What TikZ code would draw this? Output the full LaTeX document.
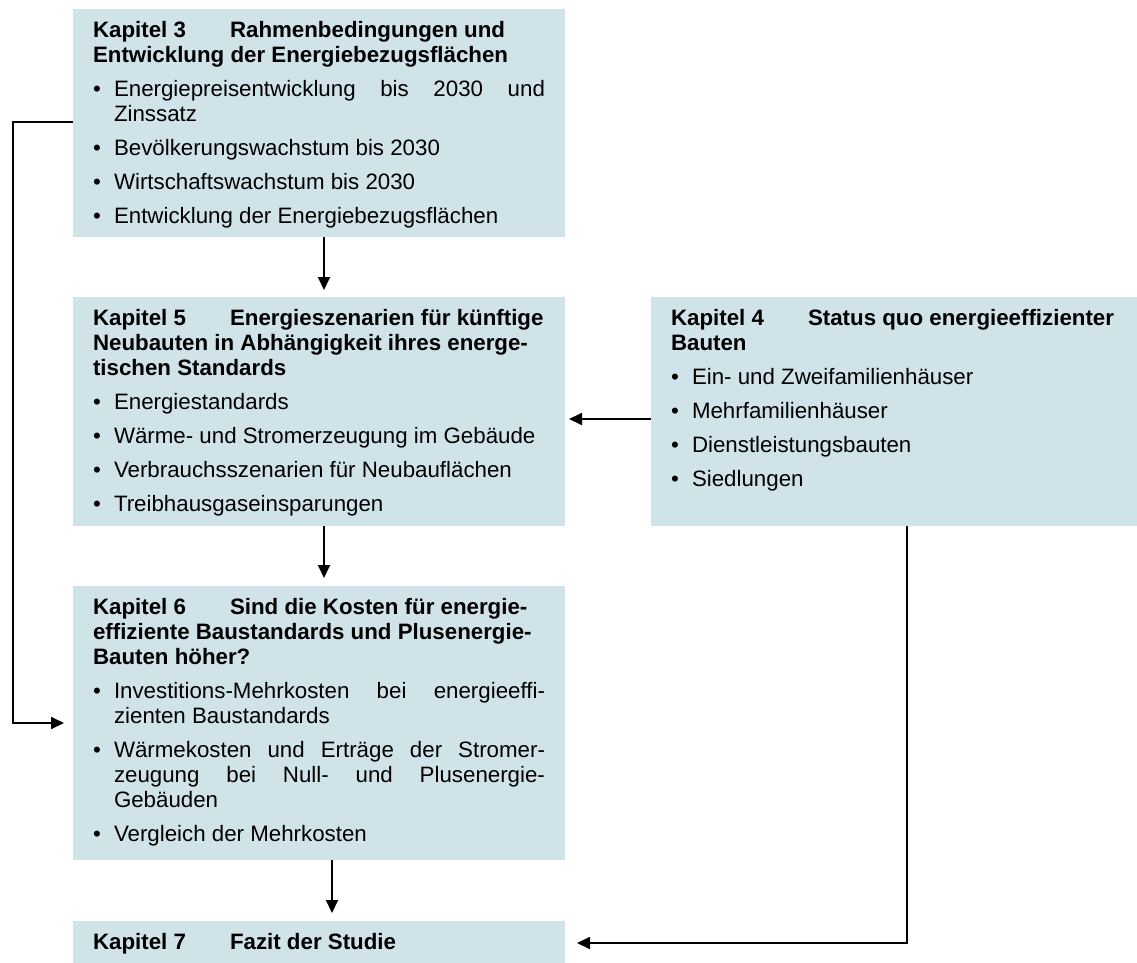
\documentclass[tikz,border=0pt]{standalone}
\usepackage{fontspec}
\setmainfont{Liberation Sans}
\usetikzlibrary{arrows.meta}
\definecolor{boxfill}{RGB}{208,227,233}
\begin{document}
\begin{tikzpicture}[x=1bp,y=-1bp,
  chapbox/.style={draw=none,fill=boxfill,inner sep=0pt,outer sep=0pt,anchor=north west},
  tx/.style={anchor=base west,inner sep=0pt,outer sep=0pt,font=\fontsize{22.3bp}{25bp}\selectfont},
  hd/.style={tx,font=\fontsize{22.3bp}{25bp}\selectfont\bfseries},
  ln/.style={line width=1.8bp},
  arr/.style={line width=1.8bp,-{Triangle[length=13bp,width=12bp]}}]
\useasboundingbox (0,0) rectangle (1137,963);

% boxes
\node[chapbox,minimum width=492bp,minimum height=228bp] (b3) at (73,9) {};
\node[chapbox,minimum width=492bp,minimum height=229bp] (b5) at (73,297) {};
\node[chapbox,minimum width=486bp,minimum height=229bp] (b4) at (651,297) {};
\node[chapbox,minimum width=492bp,minimum height=274bp] (b6) at (73,586) {};
\node[chapbox,minimum width=492bp,minimum height=42bp] (b7) at (73,921) {};

% Kapitel 3
\node[hd] (h3a) at (93,37) {Kapitel 3};
\node[hd] (h3b) at (230,37) {Rahmenbedingungen und};
\node[hd] (h3c) at (93,62) {Entwicklung der Energiebezugsflächen};
\node[tx] (d3a) at (93,96) {•};
\node[tx] (t3a) at (114,96) {\makebox[431bp][s]{Energiepreisentwicklung bis 2030 und}};
\node[tx] (t3b) at (114,121) {Zinssatz};
\node[tx] (d3b) at (93,155) {•};
\node[tx] (t3c) at (114,155) {Bevölkerungswachstum bis 2030};
\node[tx] (d3c) at (93,189) {•};
\node[tx] (t3d) at (114,189) {Wirtschaftswachstum bis 2030};
\node[tx] (d3d) at (93,223) {•};
\node[tx] (t3e) at (114,223) {Entwicklung der Energiebezugsflächen};

% Kapitel 5
\node[hd] (h5a) at (93,325) {Kapitel 5};
\node[hd] (h5b) at (230,325) {Energieszenarien für künftige};
\node[hd] (h5c) at (93,350) {Neubauten in Abhängigkeit ihres energe-};
\node[hd] (h5d) at (93,375) {tischen Standards};
\node[tx] (d5a) at (93,409) {•};
\node[tx] (t5a) at (114,409) {Energiestandards};
\node[tx] (d5b) at (93,443) {•};
\node[tx] (t5b) at (114,443) {Wärme- und Stromerzeugung im Gebäude};
\node[tx] (d5c) at (93,477) {•};
\node[tx] (t5c) at (114,477) {Verbrauchsszenarien für Neubauflächen};
\node[tx] (d5d) at (93,511) {•};
\node[tx] (t5d) at (114,511) {Treibhausgaseinsparungen};

% Kapitel 4
\node[hd] (h4a) at (671,325) {Kapitel 4};
\node[hd] (h4b) at (808,325) {Status quo energieeffizienter};
\node[hd] (h4c) at (671,350) {Bauten};
\node[tx] (d4a) at (671,384) {•};
\node[tx] (t4a) at (692,384) {Ein- und Zweifamilienhäuser};
\node[tx] (d4b) at (671,418) {•};
\node[tx] (t4b) at (692,418) {Mehrfamilienhäuser};
\node[tx] (d4c) at (671,452) {•};
\node[tx] (t4c) at (692,452) {Dienstleistungsbauten};
\node[tx] (d4d) at (671,486) {•};
\node[tx] (t4d) at (692,486) {Siedlungen};

% Kapitel 6
\node[hd] (h6a) at (93,614) {Kapitel 6};
\node[hd] (h6b) at (230,614) {Sind die Kosten für energie-};
\node[hd] (h6c) at (93,639) {effiziente Baustandards und Plusenergie-};
\node[hd] (h6d) at (93,664) {Bauten höher?};
\node[tx] (d6a) at (93,698) {•};
\node[tx] (t6a) at (114,698) {\makebox[431bp][s]{Investitions-Mehrkosten bei energieeffi-}};
\node[tx] (t6b) at (114,723) {zienten Baustandards};
\node[tx] (d6b) at (93,757) {•};
\node[tx] (t6c) at (114,757) {\makebox[431bp][s]{Wärmekosten und Erträge der Stromer-}};
\node[tx] (t6d) at (114,782) {\makebox[431bp][s]{zeugung bei Null- und Plusenergie-}};
\node[tx] (t6e) at (114,807) {Gebäuden};
\node[tx] (d6c) at (93,841) {•};
\node[tx] (t6f) at (114,841) {Vergleich der Mehrkosten};

% Kapitel 7
\node[hd] (h7a) at (93,949) {Kapitel 7};
\node[hd] (h7b) at (230,949) {Fazit der Studie};

% connectors
\coordinate (p35) at (324,290);
\draw[arr] (b3.south -| p35) -- (p35);
\coordinate (p56) at (324,578);
\draw[arr] (b5.south -| p56) -- (p56);
\coordinate (p67) at (332,913);
\draw[arr] (b6.south -| p67) -- (p67);
\coordinate (p45) at (569,419);
\draw[arr] (b4.west |- p45) -- (p45);
\coordinate (k47) at (907,943);
\coordinate (p47) at (577,943);
\draw[arr] (b4.south -| k47) -- (k47) -- (p47);
\coordinate (k1) at (13,122);
\coordinate (k2) at (13,723);
\coordinate (pl) at (64,723);
\draw[arr] (b3.west |- k1) -- (k1) -- (k2) -- (pl);
\end{tikzpicture}
\end{document}
